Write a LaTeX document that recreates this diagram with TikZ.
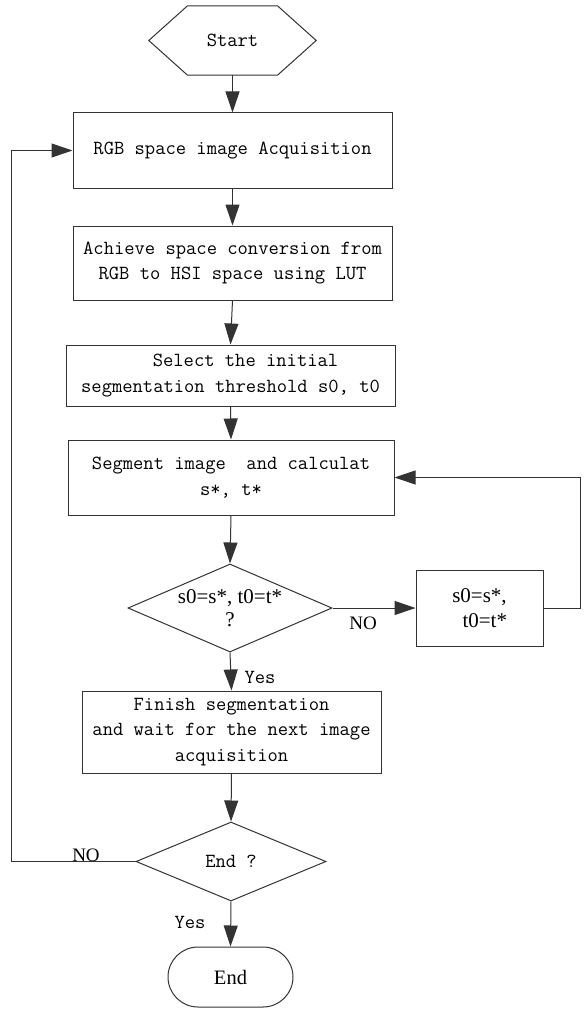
\documentclass[tikz,border=0pt]{standalone}
\usepackage{fontspec}
\newfontfamily\tms{Liberation Serif}
\usetikzlibrary{shapes.geometric,arrows.meta}
\tikzset{
  ln/.style={line width=1pt, draw=black!80},
  arr/.style={ln, -{Triangle[length=21pt,width=14pt]}},
  stepbox/.style={ln, rectangle, inner sep=0pt, align=center,
    font=\ttfamily\fontsize{20}{25.5}\selectfont},
  dec/.style={ln, diamond, inner sep=0pt},
  lbl/.style={font=\ttfamily\fontsize{20}{25.5}\selectfont, inner sep=0pt},
  tlbl/.style={font=\tms\fontsize{19}{25}\selectfont, inner sep=0pt},
}
\begin{document}
\begin{tikzpicture}[x=1pt,y=-1pt]
\useasboundingbox (0,0) rectangle (584,1014);
% Start hexagon
\node[lbl, minimum width=167pt, minimum height=69pt] (start) at (232.5,40.5) {Start};
\draw[ln] (start.west) -- ([xshift=38.7pt]start.north west) -- ([xshift=-38.7pt]start.north east)
  -- (start.east) -- ([xshift=-38.7pt]start.south east) -- ([xshift=38.7pt]start.south west) -- cycle;
% boxes
\node[stepbox, draw, minimum width=319pt, minimum height=75pt] (b1) at (232.5,150.5) {RGB space image Acquisition};
\node[stepbox, draw, minimum width=319pt, minimum height=74pt] (b2) at (232.5,263) {Achieve space conversion from\\RGB to HSI space using LUT};
\node[stepbox, draw, minimum width=329pt, minimum height=61pt] (b3) at (230.5,375.5) {\hspace*{1.5em}Select the initial\\segmentation threshold s0, t0};
\node[stepbox, draw, minimum width=326pt, minimum height=75pt] (b4) at (231,477.5) {Segment image\ \ and calculat\\s*, t*};
\node[dec, draw, minimum width=204pt, minimum height=88pt,
  label={[tlbl, font=\tms\fontsize{21}{23}\selectfont, align=center]center:{s0=s*, t0=t*\\?}}] (d1) at (230,608) {};
\node[stepbox, draw, minimum width=127pt, minimum height=76pt, font=\tms\fontsize{21}{25}\selectfont] (sb) at (479.5,608) {s0=s*,\\\hspace*{0.5em}t0=t*};
\node[stepbox, draw, minimum width=299pt, minimum height=82pt] (b5) at (231.5,732) {Finish segmentation\\and wait for the next image\\acquisition};
\node[dec, draw, minimum width=190pt, minimum height=79pt,
  label={[lbl]center:{End ?}}] (d2) at (231,861.5) {};
\node[ln, draw, rectangle, rounded corners=30pt, minimum width=125pt, minimum height=60pt,
  inner sep=0pt, font=\tms\fontsize{20.5}{24}\selectfont] (end) at (230.5,977) {End};
% connectors
\draw[arr] (start.south) -- (b1.north);
\draw[arr] (b1.south) -- (b2.north);
\draw[arr] (b2.south) -- (b3.north);
\draw[arr] (b3.south) -- (b4.north);
\draw[arr] (b4.south) -- (d1.north);
\draw[arr] (d1.south) -- (b5.north);
\draw[arr] (b5.south) -- (d2.north);
\draw[arr] (d2.south) -- (end.north);
\draw[arr] (d1.east) -- (sb.west);
\draw[arr] (sb.east) -- ++(37,0) |- (b4.east);
\draw[arr] (d2.west) -- ++(-124,0) |- (b1.west);
% labels
\node[tlbl] (no1) at (363,623) {NO};
\node[tlbl] (no2) at (86,855) {NO};
\node[lbl] (yes1) at (260,677) {Yes};
\node[lbl] (yes2) at (190,922) {Yes};
\end{tikzpicture}
\end{document}
